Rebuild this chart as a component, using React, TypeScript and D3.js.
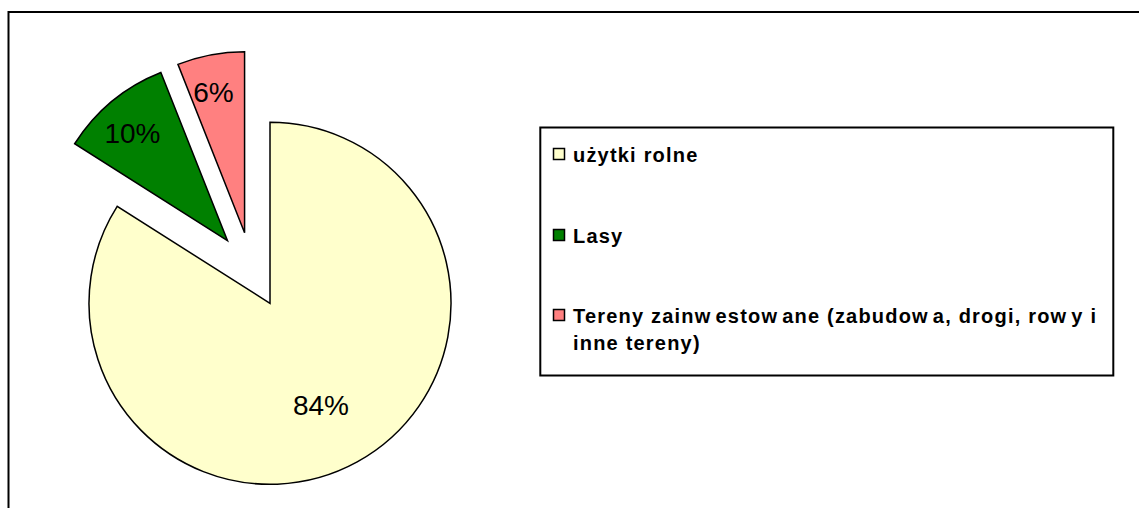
import React, { useMemo } from 'react'
import * as d3 from 'd3'

// land-use shares (percent)
const categories = ['użytki rolne', 'Lasy', 'Tereny zainwestowane (zabudowa, drogi, rowy i inne tereny)']
const legendLines = [['użytki rolne'], ['Lasy'], ['Tereny zainwestowane (zabudowa, drogi, rowy i', 'inne tereny)']]
const values = [84, 10, 6]
const colors = ['#FFFFCC', '#008000', '#FF8080']

const W = 1139
const H = 508

// the source renders a small gap after every "w"; mimic it with tspans
function WideW({ text }: { text: string }) {
  const parts = text.split('w')
  return (
    <>
      {parts.map((p, k) => (
        <tspan key={k} dx={k === 0 ? 0 : 4}>{k < parts.length - 1 ? p + 'w' : p}</tspan>
      ))}
    </>
  )
}

export default function App() {
  const cx = 251.7
  const cy = 270
  const R = 181
  const explode = 38

  const slices = useMemo(() => {
    const pie = d3.pie<number>().sort(null).startAngle(0).endAngle(2 * Math.PI)
    const arc = d3.arc<d3.PieArcDatum<number>>().innerRadius(0).outerRadius(R)
    return pie(values).map((p, i) => {
      const mid = (p.startAngle + p.endAngle) / 2
      const ux = Math.sin(mid), uy = -Math.cos(mid)
      const ox = cx + ux * explode
      const oy = cy + uy * explode
      // big slice label sits nearer the middle, small ones near the rim
      const lr = p.value > 50 ? R * 0.63 : R * 0.795
      const la = p.value > 50 ? mid + 0.04 : mid - 0.03
      return {
        d: arc(p),
        ox, oy,
        lx: ox + Math.sin(la) * lr,
        ly: oy - Math.cos(la) * lr,
        color: colors[i],
        label: `${p.value}%`,
        name: categories[i]
      }
    })
  }, [])

  const legendY = [162, 243, 323]
  const lineH = 27

  return (
    <div style={{ position: 'absolute', left: 0, top: 0 }}>
      <svg width={W} height={H} style={{ display: 'block', fontFamily: 'Liberation Sans, Arial, sans-serif' }}>
        <rect x={0} y={0} width={W} height={H} fill="#fff" />
        {/* chart area frame, runs off the page on right and bottom */}
        <rect x={8.5} y={12} width={W + 20} height={H + 20} fill="none" stroke="#000" strokeWidth={2} />

        <g>
          {slices.map((s, i) => (
            <g key={i} transform={`translate(${s.ox},${s.oy})`}>
              <path d={s.d || ''} fill={s.color} stroke="#000" strokeWidth={1.5} strokeLinejoin="miter" />
            </g>
          ))}
          {slices.map((s, i) => (
            <text key={i} x={s.lx} y={s.ly} dy="0.36em" textAnchor="middle" fontSize={28} fill="#000">
              {s.label}
            </text>
          ))}
        </g>

        {/* legend */}
        <rect x={540.3} y={127.5} width={573} height={248} fill="#fff" stroke="#000" strokeWidth={2} />
        {legendLines.map((lines, i) => (
          <g key={i}>
            <rect x={553.5} y={legendY[i] - 13.5} width={11} height={11} fill={colors[i]} stroke="#000" strokeWidth={1.5} />
            {lines.map((t, j) => (
              <text key={j} x={573} y={legendY[i] + j * lineH} fontSize={20} fontWeight="bold" letterSpacing={1.2} fill="#000">
                <WideW text={t} />
              </text>
            ))}
          </g>
        ))}
      </svg>
    </div>
  )
}
